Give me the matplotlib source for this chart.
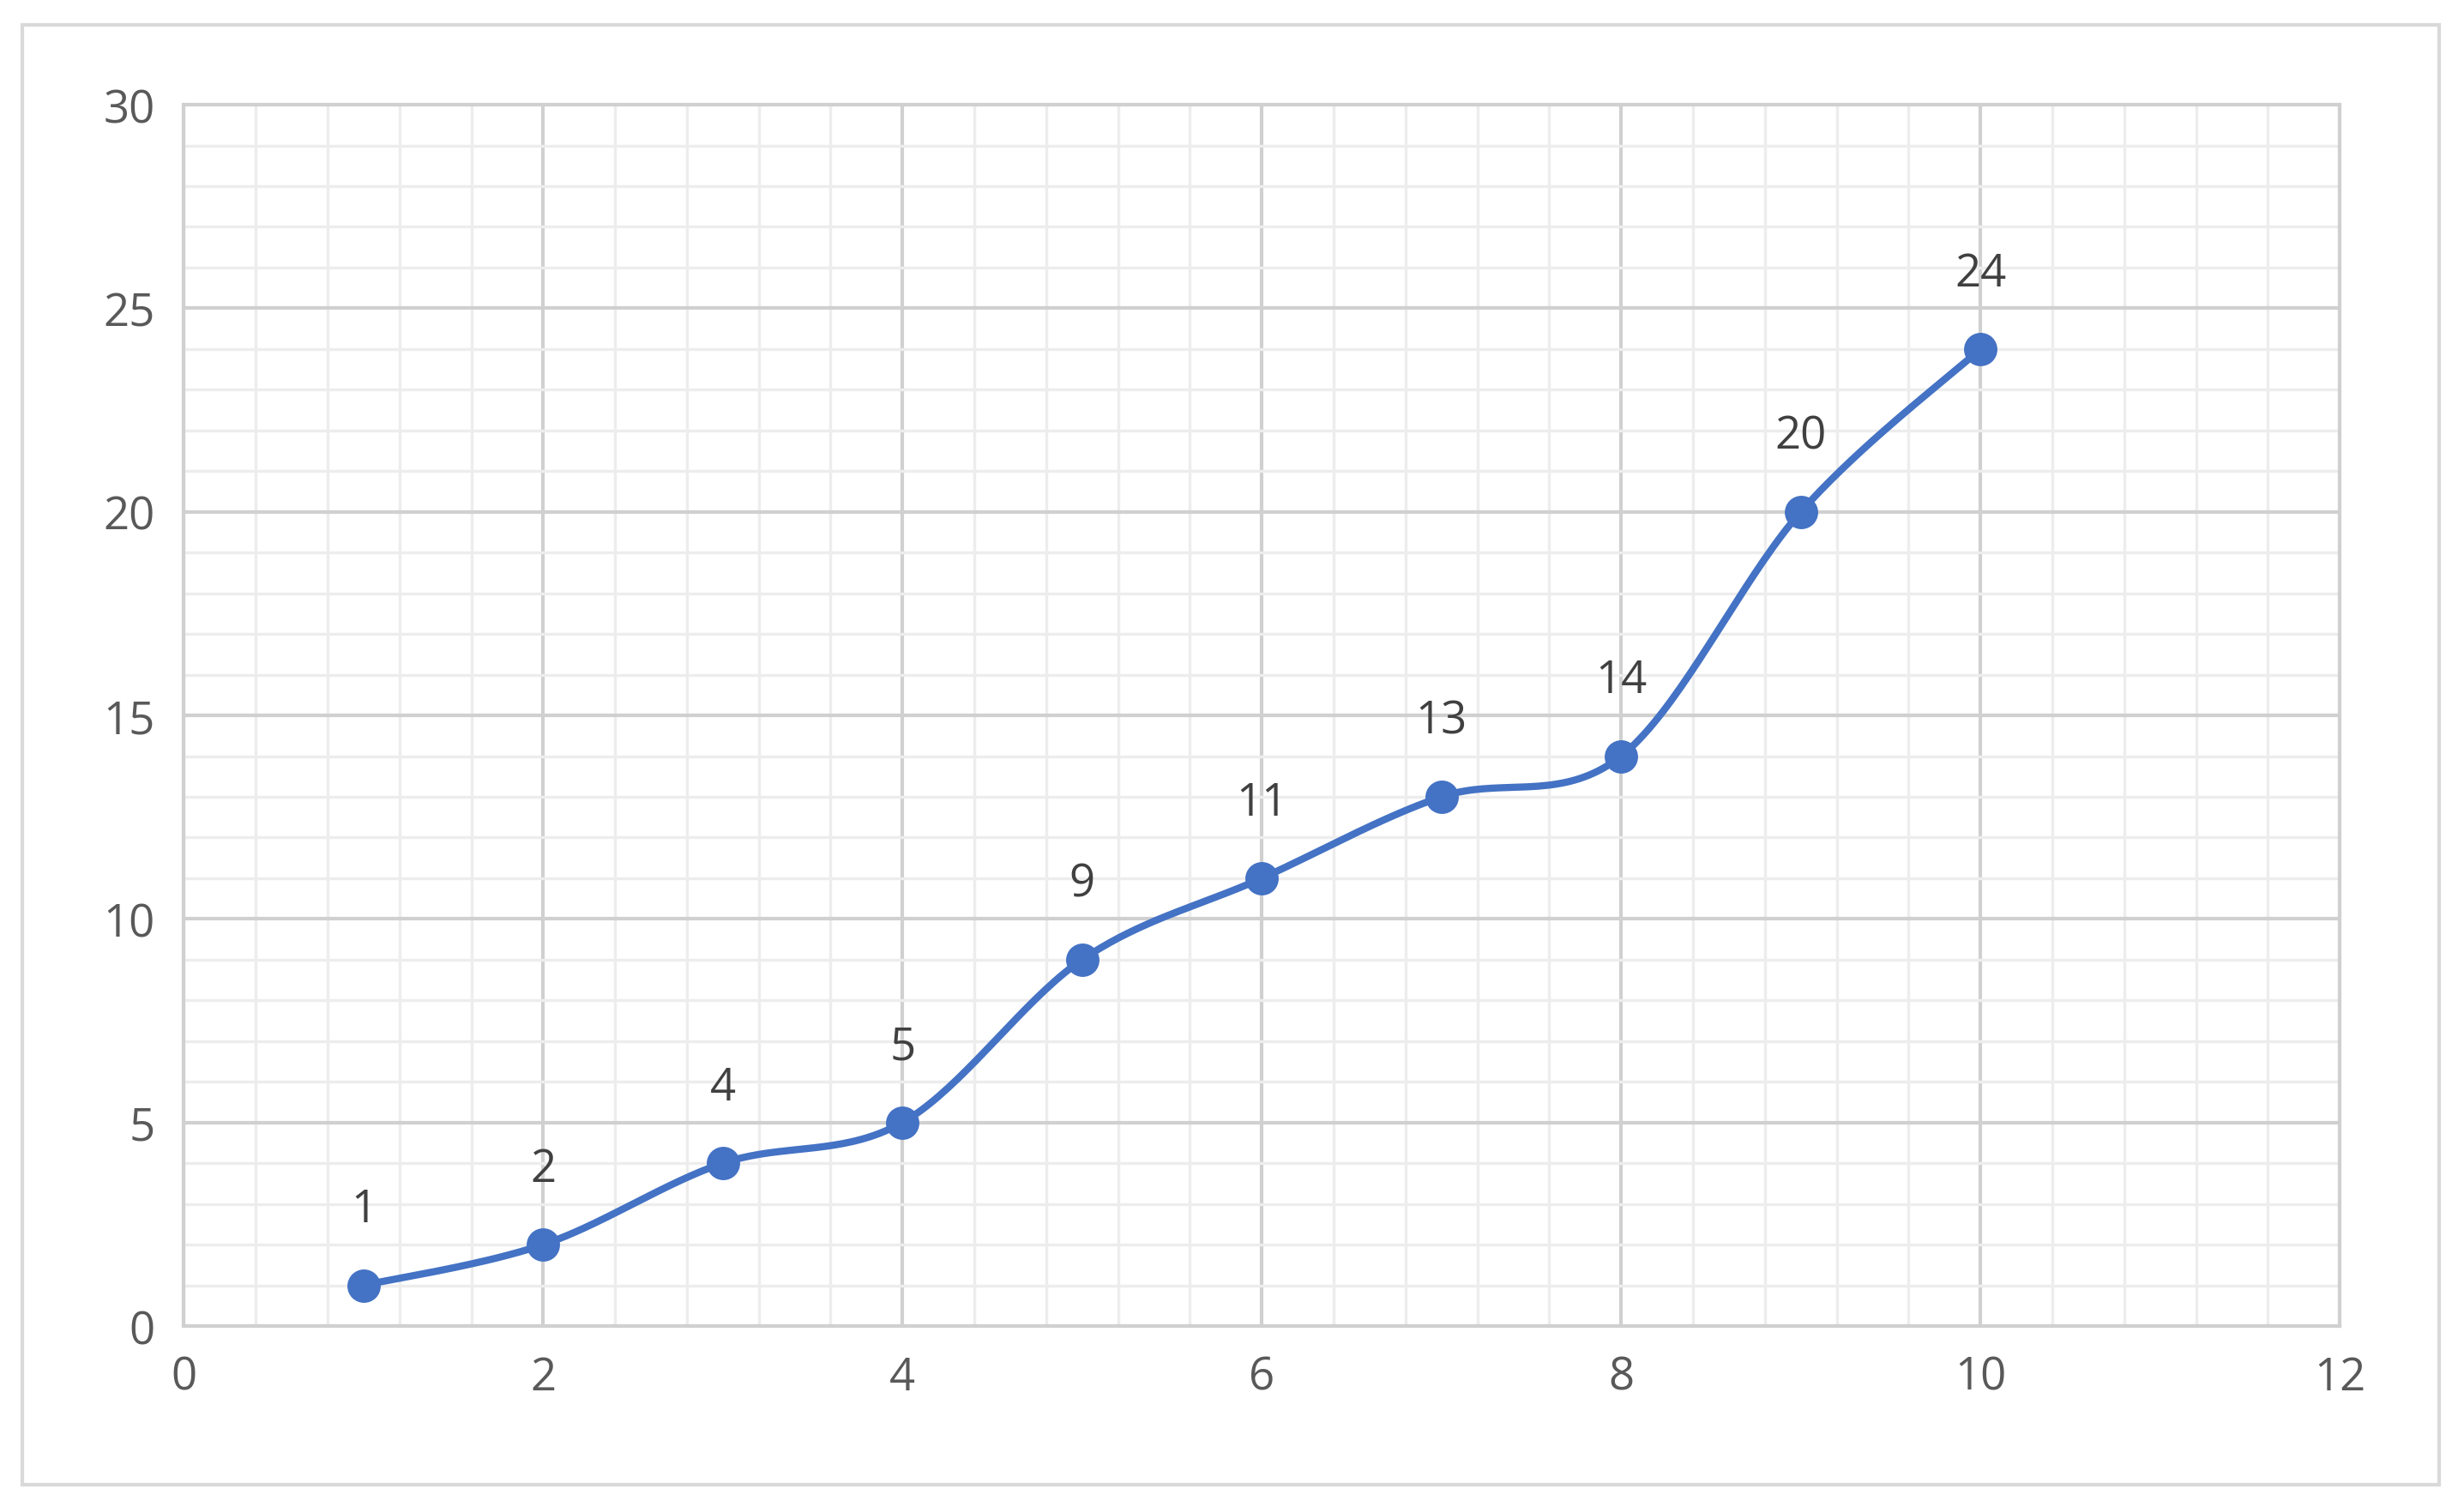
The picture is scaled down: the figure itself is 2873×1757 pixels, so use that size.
import numpy as np
import matplotlib
matplotlib.use("Agg")
import matplotlib.pyplot as plt
from matplotlib.patches import Rectangle

x_vals = [1, 2, 3, 4, 5, 6, 7, 8, 9, 10]
y_vals = [1, 2, 4, 5, 9, 11, 13, 14, 20, 24]
x_ticks = [0, 2, 4, 6, 8, 10, 12]
y_ticks = [0, 5, 10, 15, 20, 25, 30]

def smooth(xs, ys, n=40):
    p = np.column_stack([xs, ys]).astype(float)
    p = np.vstack([p[0], p, p[-1]])
    out = []
    for i in range(1, len(p) - 2):
        p0, p1, p2, p3 = p[i-1], p[i], p[i+1], p[i+2]
        c1 = p1 + (p2 - p0) / 6
        c2 = p2 - (p3 - p1) / 6
        t = np.linspace(0, 1, n)[:, None]
        out.append((1-t)**3*p1 + 3*(1-t)**2*t*c1 + 3*(1-t)*t**2*c2 + t**3*p2)
    a = np.vstack(out)
    return a[:, 0], a[:, 1]

plt.rcParams['font.family'] = ['Open Sans', 'DejaVu Sans']
fig = plt.figure(figsize=(14.365, 8.79), dpi=200)
fig.patches.append(Rectangle((0.009, 0.015), 0.981, 0.968, transform=fig.transFigure,
                             fill=False, edgecolor='#d9d9d9', linewidth=1.5))
ax = fig.add_axes([0.0746, 0.12, 0.875, 0.81])
ax.set_xlim(0, 12)
ax.set_ylim(0, 30)
ax.set_xticks(x_ticks)
ax.set_yticks(y_ticks)
ax.set_xticks(np.arange(0, 12.01, 0.4), minor=True)
ax.set_yticks(np.arange(0, 30.01, 1), minor=True)
ax.grid(which='minor', color='#ededed', linewidth=1.2)
ax.grid(which='major', color='#d0d0d0', linewidth=1.5)
ax.set_axisbelow(True)
for s in ax.spines.values():
    s.set_color('#d0d0d0'); s.set_linewidth(1.5)
ax.tick_params(which='both', length=0, labelsize=19, colors='#595959', pad=12)

sx, sy = smooth(x_vals, y_vals)
ax.plot(sx, sy, color='#4472C4', linewidth=3, zorder=3)
ax.plot(x_vals, y_vals, 'o', color='#4472C4', markersize=13, zorder=4)
for x, y in zip(x_vals, y_vals):
    ax.annotate(str(y), (x, y), xytext=(0, 22), textcoords='offset points',
                ha='center', va='bottom', fontsize=19, color='#404040')

fig.savefig('out.png', dpi=200)
